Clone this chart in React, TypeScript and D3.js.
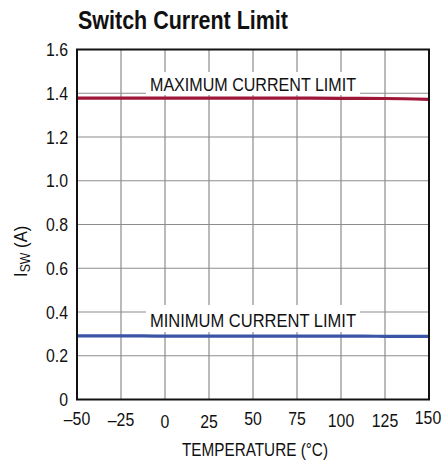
import * as d3 from 'd3';
import { useEffect, useRef } from 'react';

const temps = [-50, -25, 0, 25, 50, 75, 100, 125, 150];
const maxLimit = [1.378, 1.378, 1.378, 1.378, 1.378, 1.378, 1.377, 1.376, 1.372];
const minLimit = [0.291, 0.291, 0.29, 0.29, 0.29, 0.29, 0.29, 0.289, 0.289];
const yTicks = [0, 0.2, 0.4, 0.6, 0.8, 1.0, 1.2, 1.4, 1.6];
const xTicks = [-50, -25, 0, 25, 50, 75, 100, 125, 150];

const FONT = '"Liberation Sans", Arial, sans-serif';
const SQUEEZE = 0.88;

function App() {
    const svgRef = useRef<SVGSVGElement>(null);

    useEffect(() => {
        const w = 442;
        const h = 470;
        const m = { left: 77, right: 13, top: 49.5, bottom: 70.5 };

        const svg = d3.select(svgRef.current);
        svg.selectAll('*').remove();
        svg.attr('width', w).attr('height', h);

        const x = d3.scaleLinear().domain([-50, 150]).range([m.left, w - m.right]);
        const y = d3.scaleLinear().domain([0, 1.6]).range([h - m.bottom, m.top]);

        svg.append('text')
            .attr('x', 78)
            .attr('y', 29)
            .attr('font-family', FONT)
            .attr('font-weight', 'bold')
            .attr('font-size', 25)
            .attr('textLength', 210)
            .attr('lengthAdjust', 'spacingAndGlyphs')
            .attr('fill', '#111')
            .text('Switch Current Limit');

        // grid
        const grid = svg.append('g').attr('stroke', '#8c8c8c').attr('stroke-width', 1.2);
        xTicks.slice(1, -1).forEach((t) => {
            grid.append('line')
                .attr('x1', x(t)).attr('x2', x(t))
                .attr('y1', y(0)).attr('y2', y(1.6));
        });
        yTicks.slice(1, -1).forEach((t) => {
            grid.append('line')
                .attr('x1', x(-50)).attr('x2', x(150))
                .attr('y1', y(t)).attr('y2', y(t));
        });

        // labels with white backing
        const labels = [
            { text: 'MAXIMUM CURRENT LIMIT', t: 50, base: 91, top: 72, bottom: 95 },
            { text: 'MINIMUM CURRENT LIMIT', t: 50, base: 327, top: 305, bottom: 332 },
        ];
        labels.forEach((l) => {
            svg.append('rect')
                .attr('x', x(l.t) - 107)
                .attr('y', l.top)
                .attr('width', 214)
                .attr('height', l.bottom - l.top)
                .attr('fill', '#fff');
            svg.append('text')
                .attr('x', x(l.t) - 103)
                .attr('y', l.base)
                .attr('font-family', FONT)
                .attr('font-size', 19)
                .attr('textLength', 206)
                .attr('lengthAdjust', 'spacingAndGlyphs')
                .attr('fill', '#111')
                .text(l.text);
        });

        const line = d3.line<number>()
            .x((_, i) => x(temps[i]))
            .y((d) => y(d))
            .curve(d3.curveMonotoneX);

        svg.append('path')
            .attr('d', line(maxLimit))
            .attr('fill', 'none')
            .attr('stroke', '#9e1638')
            .attr('stroke-width', 3.2);

        svg.append('path')
            .attr('d', line(minLimit))
            .attr('fill', 'none')
            .attr('stroke', '#3b55a6')
            .attr('stroke-width', 3.2);

        // frame
        svg.append('rect')
            .attr('x', x(-50))
            .attr('y', y(1.6))
            .attr('width', x(150) - x(-50))
            .attr('height', y(0) - y(1.6))
            .attr('fill', 'none')
            .attr('stroke', '#111')
            .attr('stroke-width', 2);

        // y tick labels
        svg.append('g')
            .selectAll('text')
            .data(yTicks)
            .enter()
            .append('text')
            .attr('transform', (d) => `translate(${x(-50) - 9},${y(d) + 6.5}) scale(${SQUEEZE},1)`)
            .attr('text-anchor', 'end')
            .attr('font-family', FONT)
            .attr('font-size', 18)
            .attr('fill', '#111')
            .text((d) => (d === 0 ? '0' : d.toFixed(1)));

        // x tick labels (staggered like the reference)
        const xOffsets = [0, 0.5, 2.5, 3, 0, 0, 2, 1.5, -1.5];
        const xShift = [0, 0, 0, 0, 0, 0, 0, 0, -1];
        svg.append('g')
            .selectAll('text')
            .data(xTicks)
            .enter()
            .append('text')
            .attr('transform', (d, i) =>
                `translate(${x(d) + xShift[i]},${425 + xOffsets[i]}) scale(${SQUEEZE},1)`)
            .attr('text-anchor', 'middle')
            .attr('font-family', FONT)
            .attr('font-size', 18)
            .attr('fill', '#111')
            .text((d) => (d < 0 ? `\u2013${Math.abs(d)}` : `${d}`));

        svg.append('text')
            .attr('x', 182)
            .attr('y', 456)
            .attr('font-family', FONT)
            .attr('font-size', 19)
            .attr('textLength', 146)
            .attr('lengthAdjust', 'spacingAndGlyphs')
            .attr('fill', '#111')
            .text('TEMPERATURE (°C)');

        const yl = svg.append('text')
            .attr('transform', `translate(27, 277) rotate(-90) scale(${SQUEEZE},1)`)
            .attr('font-family', FONT)
            .attr('font-size', 19)
            .attr('fill', '#111');
        yl.append('tspan').text('I');
        yl.append('tspan').attr('font-size', 14).attr('dy', 3).text('SW');
        yl.append('tspan').attr('dy', -3).text(' (A)');
    }, []);

    return (
        <svg ref={svgRef} style={{ position: 'absolute', left: 0, top: 0 }}></svg>
    );
}

export default App;
